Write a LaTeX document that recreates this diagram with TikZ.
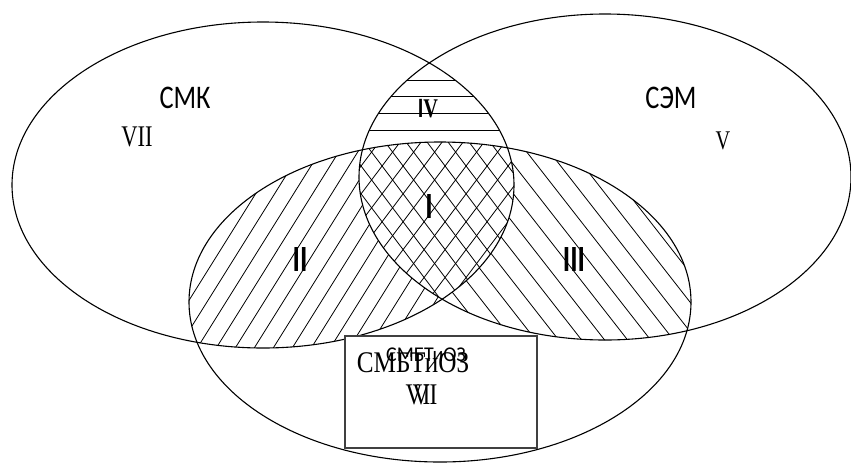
\documentclass[tikz,border=0pt]{standalone}
\usepackage{fontspec}
\setmainfont{Liberation Serif}
\newfontfamily\calibri{Carlito}
\definecolor{boxgray}{RGB}{64,64,64}
\newcommand{\narrow}[2][0.8]{\scalebox{#1}[1]{#2}}

\begin{document}
\begin{tikzpicture}[x=1pt,y=-1pt,
  contour/.style={line width=1.1pt},
  hatchline/.style={line width=0.8pt},
  setname/.style={inner sep=0pt, font=\calibri\fontsize{33}{33}\selectfont},
  zonenum/.style={inner sep=0pt, font=\fontsize{30}{30}\selectfont},
  zonebold/.style={inner sep=0pt, font=\calibri\bfseries\fontsize{37}{37}\selectfont}]
  \useasboundingbox (0,0) rectangle (851,464);

  % left and middle: "/" hatch
  \begin{scope}
    \clip (263,185) ellipse (251 and 163);
    \clip (440,302) ellipse (251 and 160);
    \foreach \k in {-12,...,30}
      \draw[hatchline] (83+19*\k,470) -- ++(-58:600);
  \end{scope}
  % right and middle: "\" hatch
  \begin{scope}
    \clip (605,177) ellipse (246 and 163);
    \clip (440,302) ellipse (251 and 160);
    \foreach \k in {-8,...,25}
      \draw[hatchline] (362+23*\k,0) -- ++(52:700);
  \end{scope}
  % all three: cross hatch
  \begin{scope}
    \clip (263,185) ellipse (251 and 163);
    \clip (605,177) ellipse (246 and 163);
    \clip (440,302) ellipse (251 and 160);
    \fill[white] (300,100) rectangle (560,360);
    \foreach \k in {-5,...,30} {
      \draw[hatchline] (216+21*\k,470) -- ++(-53:600);
      \draw[hatchline] (257+21*\k,0) -- ++(53:700);
    }
  \end{scope}
  % left and right only: horizontal lines
  \begin{scope}
    \clip (263,185) ellipse (251 and 163);
    \clip (605,177) ellipse (246 and 163);
    \foreach \y in {80,96.5,113,130}
      \draw[hatchline] (340,\y) -- (530,\y);
  \end{scope}

  % the three sets
  \draw[contour] (263,185) ellipse (251 and 163);
  \draw[contour] (605,177) ellipse (246 and 163);
  \draw[contour] (440,302) ellipse (251 and 160);

  \draw[line width=1.6pt, draw=boxgray, fill=white] (345,336) rectangle (537,448);

  \node[setname] (smk) at (185,98) {\narrow{СМК}};
  \node[setname] (sem) at (671,98) {\narrow{СЭМ}};
  \node[zonenum] (zone7) at (137,137) {\narrow[0.75]{VII}};
  \node[zonenum, font=\fontsize{27}{27}\selectfont] (zone5) at (723,141) {\narrow[0.75]{V}};
  \node[zonebold] (zone1) at (429,206) {\narrow[0.75]{I}};
  \node[zonebold] (zone2) at (300,259) {\narrow[0.75]{II}};
  \node[zonebold] (zone3) at (574,259) {\narrow[0.75]{III}};
  \node[inner sep=0pt] (zone4) at (428,109)
    {\narrow[0.75]{{\calibri\bfseries\fontsize{28}{28}\selectfont I}{\bfseries\fontsize{27}{27}\selectfont V}}};

  \node[inner sep=0pt, font=\calibri\fontsize{21}{21}\selectfont] (smbtsans) at (426,355) {\narrow[0.95]{СМБТиОЗ}};
  \node[zonenum] (smbt) at (413,363) {\narrow[0.84]{СМБТиОЗ}};
  \node[zonenum] (zone6) at (418,395) {\narrow[0.78]{VI}};
  \node[zonenum] (zone6b) at (425,395) {\narrow[0.78]{VI}};
\end{tikzpicture}
\end{document}
